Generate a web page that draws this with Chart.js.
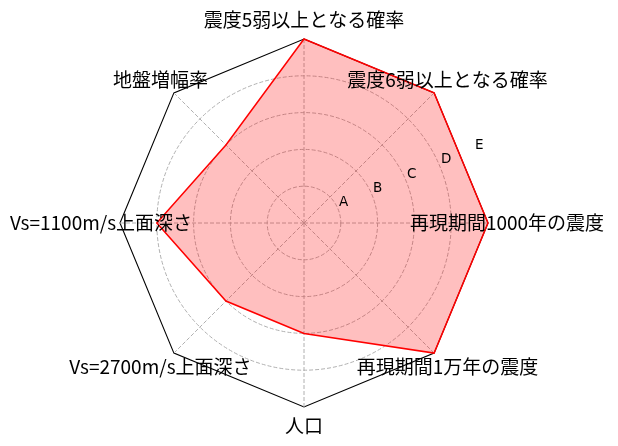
<!DOCTYPE html>
<html>

<head>
  <title>Radar Chart</title>
  <script src="https://cdn.jsdelivr.net/npm/chart.js"></script>
  <style>
    body {
      margin: 0;
      background: #fff;
    }
  </style>
</head>

<body>
  <canvas id="radarChart" width="618" height="446"></canvas>

  <script>
    // axis names, clockwise from the top
    const categories = [
      '震度5弱以上となる確率',
      '震度6弱以上となる確率',
      '再現期間1000年の震度',
      '再現期間1万年の震度',
      '人口',
      'Vs=2700m/s上面深さ',
      'Vs=1100m/s上面深さ',
      '地盤増幅率'
    ];
    const scores = [5, 5, 5, 5, 3, 3, 4, 3];
    const tickValues = [1, 2, 3, 4, 5];
    const tickLabels = ['A', 'B', 'C', 'D', 'E'];

    const gridGrey = '#b0b0b0';

    // inner rings are dashed grey circles, the outer one is the black frame
    function isInner(c) {
      return !(c.tick && c.tick.value >= 5);
    }

    // category names centred just outside each vertex, rank letters at 22.5 deg
    const labelPlugin = {
      id: 'radarLabels',
      afterDraw(chart) {
        const scale = chart.scales.r;
        const ctx = chart.ctx;
        ctx.save();
        ctx.fillStyle = '#000';
        ctx.font = '19px "Noto Sans CJK JP"';
        ctx.textAlign = 'center';
        ctx.textBaseline = 'middle';
        categories.forEach((name, i) => {
          const p = scale.getPointPosition(i, scale.drawingArea + 19);
          ctx.fillText(name, p.x, p.y);
        });

        ctx.font = '13.5px "DejaVu Sans"';
        ctx.textAlign = 'left';
        ctx.textBaseline = 'bottom';
        const a = 22.5 * Math.PI / 180;
        tickValues.forEach((v, i) => {
          const d = scale.getDistanceFromCenterForValue(v);
          ctx.fillText(tickLabels[i], scale.xCenter + Math.cos(a) * d + 1, scale.yCenter - Math.sin(a) * d);
        });
        ctx.restore();
      }
    };

    const ctx = document.getElementById('radarChart').getContext('2d');

    new Chart(ctx, {
      type: 'radar',
      data: {
        labels: categories,
        datasets: [{
          data: scores,
          borderColor: 'red',
          borderWidth: 1.5,
          backgroundColor: 'rgba(255, 0, 0, 0.25)',
          fill: true,
          pointRadius: 0,
          tension: 0
        }]
      },
      options: {
        responsive: false,
        animation: false,
        layout: {
          padding: { top: 39, bottom: 39, left: 120, right: 130 }
        },
        plugins: {
          legend: { display: false },
          tooltip: { enabled: false }
        },
        scales: {
          r: {
            min: 0,
            max: 5,
            ticks: { display: false, stepSize: 1 },
            pointLabels: { display: false },
            angleLines: {
              color: gridGrey,
              lineWidth: 1,
              borderDash: [4, 2]
            },
            grid: {
              circular: (c) => isInner(c),
              color: (c) => isInner(c) ? gridGrey : '#000',
              lineWidth: (c) => isInner(c) ? 1 : 1.1
            },
            border: {
              dash: (c) => isInner(c) ? [4, 2] : []
            }
          }
        }
      },
      plugins: [labelPlugin]
    });
  </script>
</body>

</html>
